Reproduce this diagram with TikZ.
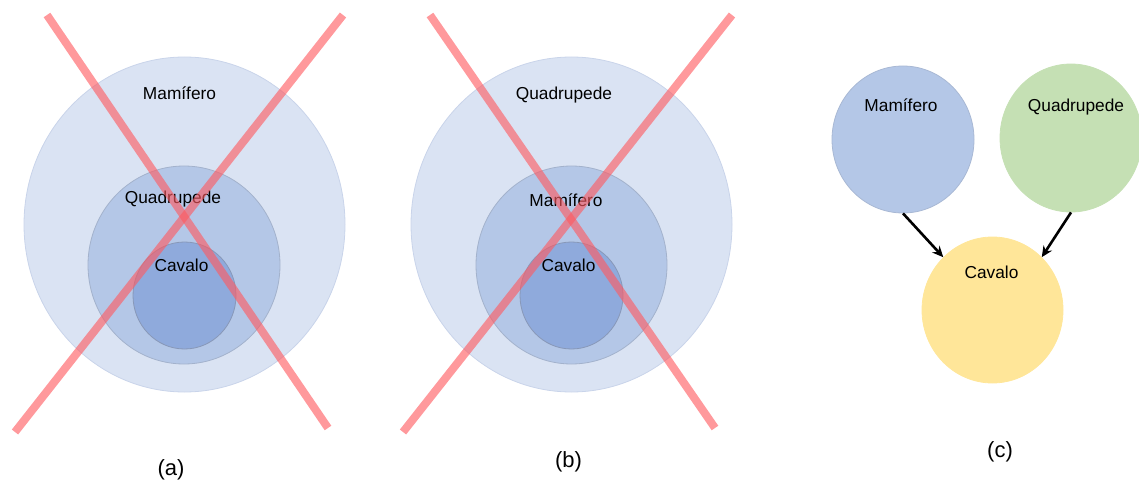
\documentclass[tikz,border=0pt]{standalone}
\usepackage{fontspec}
\setmainfont{Liberation Sans}
\usetikzlibrary{shapes.geometric,arrows.meta}
\definecolor{ringA}{HTML}{DAE3F3}
\definecolor{ringB}{HTML}{B4C7E7}
\definecolor{ringC}{HTML}{8FAADC}
\definecolor{edgeA}{HTML}{C9D4EA}
\definecolor{edgeB}{HTML}{A3B2CC}
\definecolor{edgeC}{HTML}{8898B8}
\definecolor{mamfill}{HTML}{B4C7E7}
\definecolor{quadfill}{HTML}{C5E0B4}
\definecolor{cavfill}{HTML}{FFE699}
\definecolor{crossred}{HTML}{FF5A60}
\tikzset{
  blob/.style={ellipse, inner sep=0pt, line width=0.8pt},
  setlabel/.style={anchor=base, inner sep=0pt, font=\fontsize{17.3}{20}\selectfont},
  caption/.style={inner sep=0pt, font=\fontsize{22}{26}\selectfont},
  crossline/.style={line width=8pt, draw=crossred, opacity=0.62, line cap=butt},
  link/.style={line width=2.6pt, -{Stealth[length=11pt,width=10pt]}}
}
\begin{document}
\begin{tikzpicture}[x=1pt,y=-1pt]
\useasboundingbox (0,0) rectangle (1139,489);

% ---- (a): nested sets, Mamifero > Quadrupede > Cavalo
\node[blob, fill=ringA, draw=edgeA, minimum width=321pt, minimum height=335pt] (aOuter) at (184.5,224.5) {};
\node[blob, fill=ringB, draw=edgeB, minimum width=192pt, minimum height=198pt] (aMid) at (184,265) {};
\node[blob, fill=ringC, draw=edgeC, minimum width=103pt, minimum height=107pt] (aInner) at (184.5,295.5) {};
\node[setlabel] (aOuterTxt) at (179.5,100) {Mamífero};
\node[setlabel] (aMidTxt) at (173,204) {Quadrupede};
\node[setlabel] (aInnerTxt) at (181.5,271) {Cavalo};
\coordinate (aX1s) at (47,15);  \coordinate (aX1e) at (328,428);
\coordinate (aX2s) at (343,15); \coordinate (aX2e) at (15,432);
\draw[crossline] (aX1s) -- (aX1e);
\draw[crossline] (aX2s) -- (aX2e);
\node[caption] (capA) at (171,470) {(a)};

% ---- (b): nested sets, Quadrupede > Mamifero > Cavalo
\node[blob, fill=ringA, draw=edgeA, minimum width=321pt, minimum height=335pt] (bOuter) at (571.5,224.5) {};
\node[blob, fill=ringB, draw=edgeB, minimum width=191pt, minimum height=198pt] (bMid) at (571.5,265) {};
\node[blob, fill=ringC, draw=edgeC, minimum width=103pt, minimum height=107pt] (bInner) at (571.5,295.5) {};
\node[setlabel] (bOuterTxt) at (564,100) {Quadrupede};
\node[setlabel] (bMidTxt) at (566,206) {Mamífero};
\node[setlabel] (bInnerTxt) at (568.5,271) {Cavalo};
\coordinate (bX1s) at (430,15);  \coordinate (bX1e) at (715,428);
\coordinate (bX2s) at (732,15);  \coordinate (bX2e) at (403,432);
\draw[crossline] (bX1s) -- (bX1e);
\draw[crossline] (bX2s) -- (bX2e);
\node[caption] (capB) at (568.5,462) {(b)};

% ---- (c): multiple inheritance
\node[blob, fill=mamfill, draw=edgeB!70!mamfill, minimum width=142pt, minimum height=147pt] (mam) at (903,139.5) {};
\node[blob, fill=quadfill, draw=quadfill, minimum width=142pt, minimum height=148pt] (quad) at (1071,138) {};
\node[blob, fill=cavfill, draw=cavfill, minimum width=141pt, minimum height=146pt] (cav) at (992.5,310) {};
\node[setlabel] (mamTxt) at (901,112) {Mamífero};
\node[setlabel] (quadTxt) at (1076,112) {Quadrupede};
\node[setlabel] (cavTxt) at (991.5,278) {Cavalo};
\draw[link] (mam.south) -- (cav.133);
\draw[link] (quad.south) -- (cav.47);
\node[caption] (capC) at (1000,452) {(c)};
\end{tikzpicture}
\end{document}
